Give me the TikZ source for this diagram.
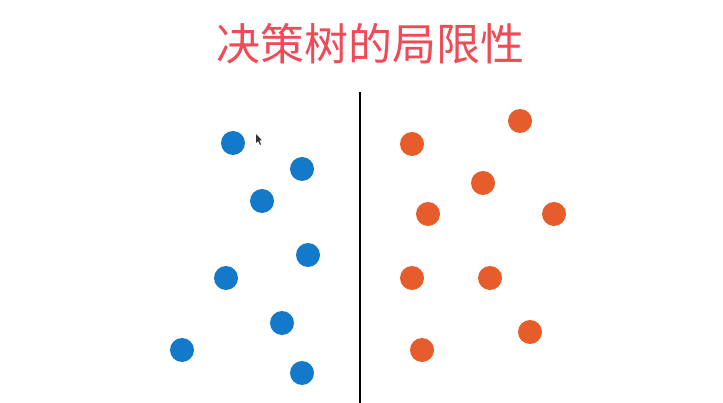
\documentclass[tikz,border=0pt]{standalone}
\usepackage{fontspec}
\newfontfamily\cjk{Noto Sans CJK SC}
\definecolor{titlered}{RGB}{240,74,86}
\definecolor{dotblue}{RGB}{18,122,200}
\definecolor{dotorange}{RGB}{230,92,42}
\begin{document}
\begin{tikzpicture}[x=1pt,y=-1pt,
  bdot/.style={circle,fill=dotblue,minimum size=24pt,inner sep=0pt},
  odot/.style={circle,fill=dotorange,minimum size=24pt,inner sep=0pt}]
\useasboundingbox[fill=white] (0,0) rectangle (723,403);
\node[text=titlered,font=\cjk\fontsize{44}{50}\selectfont] (title) at (370,44) {决策树的局限性};
\coordinate (top) at (360,92);
\coordinate (bot) at (360,403);
\draw[line width=1.5pt] (top) -- (bot);
% blue
\node[bdot] (b1) at (233,143) {};
\node[bdot] (b2) at (302,169) {};
\node[bdot] (b3) at (262,201) {};
\node[bdot] (b4) at (308,255) {};
\node[bdot] (b5) at (226,278) {};
\node[bdot] (b6) at (282,323) {};
\node[bdot] (b7) at (182,350) {};
\node[bdot] (b8) at (302,373) {};
% orange
\node[odot] (o1) at (520,121) {};
\node[odot] (o2) at (412,144) {};
\node[odot] (o3) at (483,183) {};
\node[odot] (o4) at (428,214) {};
\node[odot] (o5) at (554,214) {};
\node[odot] (o6) at (412,278) {};
\node[odot] (o7) at (490,278) {};
\node[odot] (o8) at (530,332) {};
\node[odot] (o9) at (422,350) {};
% cursor
\fill[black!80] (256,134) -- (256,143) -- (258,141) -- (260,145) -- (261,144.5) -- (259.5,140.5) -- (262,140.5) -- cycle;
\end{tikzpicture}
\end{document}
